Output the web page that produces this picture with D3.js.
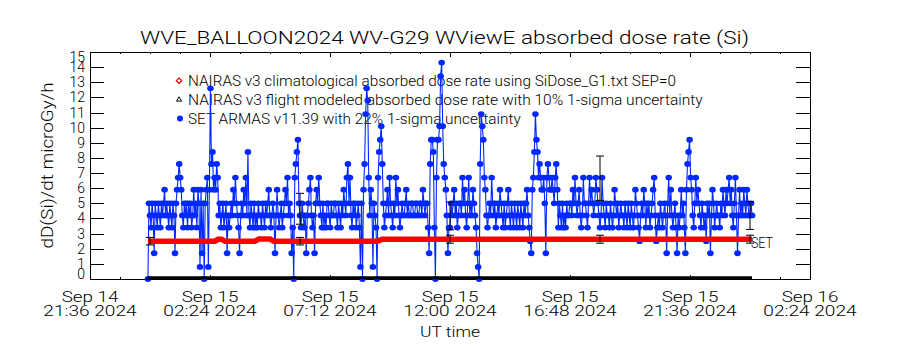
<!DOCTYPE html>
<html>
<head>
<meta charset="utf-8">
<script src="https://cdn.jsdelivr.net/npm/d3@7"></script>
<style>
body { margin: 0; background: #fff; }
text { font-family: Roboto, "Liberation Sans", Arial, sans-serif; font-weight: 300; fill: #000; }
</style>
</head>
<body>
<div id="chart"></div>
<script>
// SET ARMAS dose rate, one reading every 2.5 minutes from 23:55 UT Sep 14
var setStart = "2024-09-14T23:55:00Z";
var setStepMinutes = 2.5;
var setDose = [
    0, 5.0, 4.2, 3.4, 5.0, 4.2, 1.7, 5.0, 4.2, 3.4, 5.0, 4.2, 3.4, 5.0, 4.2, 5.0, 5.9, 4.2, 5.0, 4.2,
    3.4, 5.0, 4.2, 3.4, 5.0, 4.2, 1.7, 5.0, 5.9, 6.7, 7.6, 6.7, 5.9, 4.2, 3.4, 5.0, 4.2, 5.0, 3.4, 5.0,
    4.2, 5.0, 3.4, 4.2, 5.9, 4.2, 5.0, 3.4, 5.9, 5.0, 0.8, 5.9, 1.7, 5.0, 0, 5.0, 5.9, 6.7, 0.8, 5.9,
    12.6, 7.6, 8.4, 5.9, 6.7, 5.9, 7.6, 6.7, 4.2, 5.0, 3.4, 4.2, 5.0, 3.4, 4.2, 5.0, 1.7, 4.2, 3.4, 4.2,
    5.0, 4.2, 5.9, 5.0, 6.7, 5.0, 4.2, 3.4, 1.7, 4.2, 5.0, 4.2, 5.9, 5.0, 6.7, 4.2, 8.4, 4.2, 3.4, 5.0,
    4.2, 3.4, 5.0, 3.4, 4.2, 3.4, 5.0, 4.2, 4.2, 3.4, 5.0, 4.2, 3.4, 5.0, 4.2, 5.0, 5.9, 4.2, 3.4, 4.2,
    5.0, 4.2, 1.7, 4.2, 5.9, 4.2, 3.4, 4.2, 5.0, 3.4, 4.2, 5.0, 5.9, 5.0, 6.7, 4.2, 5.0, 4.2, 1.7, 3.4,
    0, 6.7, 7.6, 8.4, 9.2, 5.0, 4.2, 3.4, 5.0, 4.2, 3.4, 4.2, 1.7, 4.2, 5.0, 5.9, 6.7, 4.2, 3.4, 4.2,
    1.7, 5.0, 5.9, 5.0, 6.7, 5.0, 4.2, 3.4, 5.0, 3.4, 4.2, 3.4, 5.0, 5.0, 4.2, 3.4, 5.0, 4.2, 4.2, 5.0,
    5.0, 4.2, 3.4, 5.0, 4.2, 3.4, 5.0, 4.2, 5.9, 5.0, 4.2, 6.7, 7.6, 5.0, 6.7, 4.2, 3.4, 5.0, 4.2, 5.0,
    3.4, 4.2, 5.0, 3.4, 0.8, 5.0, 0, 5.9, 7.6, 10.9, 12.6, 11.8, 6.7, 4.2, 5.9, 5.0, 0.8, 5.0, 4.2, 3.4,
    0, 6.7, 8.4, 9.2, 10.1, 7.6, 5.0, 3.4, 4.2, 5.0,
    5.9, 4.2, 6.7, 5.0, 4.2, 3.4, 5.0, 4.2, 6.7, 5.0, 5.9, 4.2, 3.4, 4.2, 5.0, 4.2, 4.2, 5.0, 5.9, 4.2,
    5.0, 4.2, 4.2, 5.0, 5.0, 4.2, 4.2, 5.0, 5.0, 4.2, 4.2, 5.0, 5.0, 4.2, 5.9, 5.0, 4.2, 5.0, 5.0, 3.4,
    1.7, 7.6, 9.2, 9.2, 8.4, 3.4, 0, 6.7, 9.2, 9.2, 10.1, 13.4, 14.3, 10.1, 7.6, 6.7, 5.9, 4.2, 1.7, 3.4,
    3.4, 5.0, 4.2, 5.0, 5.9, 4.2, 5.0, 3.4, 4.2, 5.0, 5.0, 4.2, 6.7, 5.0, 5.9, 4.2, 3.4, 5.0, 6.7, 4.2,
    5.0, 4.2, 5.9, 5.0, 4.2, 3.4, 1.7, 0.8, 0, 7.6, 10.9, 10.1, 9.2, 6.7, 5.9, 4.2, 3.4, 4.2, 5.0, 4.2,
    6.7, 5.0, 4.2, 5.0, 3.4, 4.2, 5.0, 4.2, 5.9, 5.0, 4.2, 3.4, 5.0, 3.4, 4.2, 5.0, 5.9, 4.2,
    3.4, 5.0, 4.2, 3.4, 5.0, 4.2, 3.4, 5.0, 4.2, 3.4, 5.0, 4.2, 3.4, 5.0, 4.2, 5.0, 5.9, 4.2, 3.4, 2.5,
    1.7, 5.9, 6.7, 8.4, 10.9, 9.2, 8.4, 6.7, 7.6, 6.7, 5.9, 5.9, 6.7, 5.0, 1.7, 6.7, 7.6, 6.7, 5.9, 5.9,
    6.7, 5.9, 5.0, 6.7, 7.6, 5.9, 3.4, 5.0, 4.2, 3.4, 5.0, 3.4, 4.2, 3.4, 5.0, 4.2, 4.2, 5.0, 5.0, 4.2,
    5.9, 5.0, 6.7, 5.0, 4.2, 5.0, 5.9, 4.2, 3.4, 4.2, 6.7, 5.0, 5.0, 4.2, 3.4, 5.0, 6.7, 5.0, 5.9, 5.0,
    4.2, 5.0, 6.7, 5.9, 5.0, 4.2, 3.4, 4.2, 6.7, 5.0, 4.2, 3.4, 5.0, 4.2, 4.2, 3.4, 5.0, 4.2, 3.4, 4.2,
    5.9, 5.0, 4.2, 5.0, 3.4, 4.2, 5.0, 4.2, 4.2, 3.4, 5.0, 4.2, 3.4, 5.0,
    4.2, 3.4, 5.0, 4.2, 3.4, 4.2, 5.9, 5.0, 4.2, 3.4, 2.5, 4.2, 5.0, 4.2, 5.9, 5.0, 3.4, 5.0, 4.2, 5.0,
    3.4, 4.2, 5.0, 5.9, 6.7, 4.2, 2.5, 3.4, 4.2, 3.4, 5.0, 4.2, 3.4, 4.2, 5.0, 4.2, 1.7, 5.0, 6.7, 4.2,
    5.9, 4.2, 3.4, 4.2, 5.0, 3.4, 1.7, 4.2, 3.4, 4.2, 5.9, 4.2, 5.0, 3.4, 1.7, 5.9, 7.6, 8.4, 9.2, 6.7,
    5.9, 4.2, 3.4, 5.0, 6.7, 5.0, 5.9, 5.0, 4.2, 3.4, 5.0, 4.2, 3.4, 4.2, 2.5, 5.0, 4.2, 5.0, 1.7, 4.2,
    5.9, 5.0, 3.4, 4.2, 5.0, 4.2, 4.2, 3.4, 5.0, 4.2, 5.9, 5.0, 4.2, 5.9, 5.0, 5.9, 6.7, 5.0, 5.9, 4.2,
    3.4, 5.0, 6.7, 4.2, 1.7, 4.2, 5.9, 4.2, 5.0, 4.2, 5.9, 5.0, 4.2, 5.9, 5.0, 4.2, 4.2, 5.0, 4.2
];

// NAIRAS climatological rate, hours after 00:00 UT Sep 15
var nairasHours = [-0.08, 2.6, 2.72, 2.86, 3.0, 4.2, 4.36, 4.8, 4.95, 9.1, 9.28, 12, 18, 24.08];
var nairasClim = [2.5, 2.5, 2.62, 2.62, 2.5, 2.5, 2.65, 2.65, 2.5, 2.5, 2.62, 2.63, 2.63, 2.63];

// NAIRAS flight modeled rate
var flightHours = [-0.08, 24.08];
var flightDose = [0.08, 0.08];

// error bars every 6 hours
var errHours = [0, 6, 12, 18, 24];
var setErrDose = [0, 4.64, 4.17, 6.66, 4.2];
var nairasErrDose = [2.5, 2.5, 2.63, 2.63, 2.63];
var setSigma = 0.22, nairasSigma = 0.10;

var yTicks = [0, 1, 2, 3, 4, 5, 6, 7, 8, 9, 10, 11, 12, 13, 14, 15];
var xTicks = ["2024-09-14T21:36:00Z", "2024-09-15T02:24:00Z", "2024-09-15T07:12:00Z",
    "2024-09-15T12:00:00Z", "2024-09-15T16:48:00Z", "2024-09-15T21:36:00Z", "2024-09-16T02:24:00Z"];

var legendLabels = [
    "NAIRAS v3 climatological absorbed dose rate using SiDose_G1.txt SEP=0",
    "NAIRAS v3 flight modeled absorbed dose rate with 10% 1-sigma uncertainty",
    "SET ARMAS v11.39 with 22% 1-sigma uncertainty"
];

var margin = { top: 52, right: 90, bottom: 71, left: 90 },
    width = 900 - margin.left - margin.right,
    height = 350 - margin.top - margin.bottom;

var svgRoot = d3.select("#chart")
    .append("svg")
    .attr("width", 900)
    .attr("height", 350)
    .style("background", "#fff");

var svg = svgRoot.append("g")
    .attr("transform", "translate(" + margin.left + "," + margin.top + ")");

var t0 = new Date("2024-09-15T00:00:00Z").getTime();
function hoursToDate(h) { return new Date(t0 + h * 3600000); }

var xDates = xTicks.map(function (d) { return new Date(d); });
var x = d3.scaleUtc()
    .domain([xDates[0], xDates[xDates.length - 1]])
    .range([0, width]);

var y = d3.scaleLinear()
    .domain([0, 15])
    .range([height, 0]);

// minor ticks every 72 minutes
var minorTicks = d3.range(xDates[0].getTime(), xDates[6].getTime() + 1, 72 * 60000)
    .map(function (ms) { return new Date(ms); });

function noDomain(g) { g.select(".domain").remove(); g.selectAll("text").remove(); }

svg.append("g").attr("transform", "translate(0," + height + ")")
    .call(d3.axisBottom(x).tickValues(minorTicks).tickSize(-2.3)).call(noDomain);
svg.append("g").attr("transform", "translate(0," + height + ")")
    .call(d3.axisBottom(x).tickValues(xDates).tickSize(-4.5)).call(noDomain);
svg.append("g")
    .call(d3.axisTop(x).tickValues(minorTicks).tickSize(-2.3)).call(noDomain);
svg.append("g")
    .call(d3.axisTop(x).tickValues(xDates).tickSize(-4.5)).call(noDomain);
svg.append("g")
    .call(d3.axisLeft(y).tickValues(yTicks).tickSize(-14.4)).call(noDomain);
svg.append("g").attr("transform", "translate(" + width + ",0)")
    .call(d3.axisRight(y).tickValues(yTicks).tickSize(-14.4)).call(noDomain);
svg.selectAll(".tick line").attr("stroke", "#000").attr("shape-rendering", "crispEdges");

svg.append("rect")
    .attr("x", 0).attr("y", 0)
    .attr("width", width).attr("height", height)
    .attr("fill", "none")
    .attr("stroke", "#000")
    .attr("stroke-width", 1)
    .attr("shape-rendering", "crispEdges");

// y tick labels, end ones kept inside the axis
svg.selectAll(".ylab")
    .data(yTicks)
    .enter().append("text")
    .attr("class", "ylab")
    .attr("x", -5)
    .attr("y", function (d) { return Math.min(Math.max(y(d), 4.7), height - 4.7) + 5; })
    .attr("text-anchor", "end")
    .style("font-size", "14px")
    .text(function (d) { return d; });

// x tick labels, two lines
var fmtDay = d3.utcFormat("%b %d"), fmtTime = d3.utcFormat("%H:%M %Y");
xDates.forEach(function (d) {
    svg.append("text")
        .attr("x", x(d) - 28.3).attr("y", height + 23)
        .attr("textLength", 56.7).attr("lengthAdjust", "spacingAndGlyphs")
        .style("font-size", "14.5px")
        .text(fmtDay(d));
    svg.append("text")
        .attr("x", x(d) - 46.7).attr("y", height + 36.7)
        .attr("textLength", 93.3).attr("lengthAdjust", "spacingAndGlyphs")
        .style("font-size", "14.5px")
        .text(fmtTime(d));
});

svg.append("text")
    .attr("x", width / 2 - 30).attr("y", height + 58.3)
    .attr("textLength", 60).attr("lengthAdjust", "spacingAndGlyphs")
    .style("font-size", "15px")
    .text("UT time");

svgRoot.append("text")
    .attr("x", 140).attr("y", 43.5)
    .attr("textLength", 609).attr("lengthAdjust", "spacingAndGlyphs")
    .style("font-size", "18.5px")
    .text("WVE_BALLOON2024 WV-G29 WViewE absorbed dose rate (Si)");

svgRoot.append("text")
    .attr("transform", "translate(53.3," + (margin.top + height / 2) + ") rotate(-90)")
    .attr("x", -83).attr("y", 0)
    .attr("textLength", 166).attr("lengthAdjust", "spacingAndGlyphs")
    .style("font-size", "17px")
    .text("dD(Si)/dt microGy/h");

// legend
var legendWidths = [488, 514.7, 332.7];
legendLabels.forEach(function (lab, i) {
    svg.append("text")
        .attr("x", 98).attr("y", 33.5 + i * 19)
        .attr("textLength", legendWidths[i]).attr("lengthAdjust", "spacingAndGlyphs")
        .style("font-size", "14px")
        .text(lab);
});
svg.append("path")
    .attr("d", d3.symbol().type(d3.symbolDiamond2).size(18)())
    .attr("transform", "translate(89,28.7)")
    .attr("fill", "none").attr("stroke", "#e00000").attr("stroke-width", 1.2);
svg.append("path")
    .attr("d", d3.symbol().type(d3.symbolTriangle2).size(18)())
    .attr("transform", "translate(89,47.7)")
    .attr("fill", "none").attr("stroke", "#000").attr("stroke-width", 1);
svg.append("circle")
    .attr("cx", 90).attr("cy", 66.5).attr("r", 3)
    .attr("fill", "#0028ff");

// SET ARMAS series
var startMs = new Date(setStart).getTime();
var setData = setDose.map(function (v, i) {
    return { date: new Date(startMs + i * setStepMinutes * 60000), value: v };
});

var line = d3.line()
    .x(function (d) { return x(d.date); })
    .y(function (d) { return y(d.value); });

svg.append("path")
    .datum(setData)
    .attr("fill", "none")
    .attr("stroke", "#0028ff")
    .attr("stroke-width", 1.1)
    .attr("d", line);

svg.selectAll(".setpt")
    .data(setData)
    .enter().append("ellipse")
    .attr("class", "setpt")
    .attr("cx", function (d) { return x(d.date); })
    .attr("cy", function (d) { return y(d.value); })
    .attr("rx", 3.3)
    .attr("ry", 2.9)
    .attr("fill", "#0028ff");

// NAIRAS climatological
var climData = nairasHours.map(function (h, i) { return { date: hoursToDate(h), value: nairasClim[i] }; });
svg.append("path")
    .datum(climData)
    .attr("fill", "none")
    .attr("stroke", "#ff0000")
    .attr("stroke-width", 5.5)
    .attr("d", line);

// NAIRAS flight modeled
var flightData = flightHours.map(function (h, i) { return { date: hoursToDate(h), value: flightDose[i] }; });
svg.append("path")
    .datum(flightData)
    .attr("fill", "none")
    .attr("stroke", "#000")
    .attr("stroke-width", 3)
    .attr("d", line);

// error bars
function errorBars(centers, sigma) {
    errHours.forEach(function (h, i) {
        var cx = x(hoursToDate(h)),
            lo = y(centers[i] * (1 - sigma)),
            hi = y(centers[i] * (1 + sigma));
        var p = d3.path();
        p.moveTo(cx, lo); p.lineTo(cx, hi);
        p.moveTo(cx - 4, lo); p.lineTo(cx + 4, lo);
        p.moveTo(cx - 4, hi); p.lineTo(cx + 4, hi);
        svg.append("path").attr("d", p.toString())
            .attr("fill", "none").attr("stroke", "#000").attr("stroke-width", 1);
    });
}
errorBars(setErrDose, setSigma);
errorBars(nairasErrDose, nairasSigma);

svg.append("text")
    .attr("x", x(hoursToDate(24)) + 1).attr("y", y(2.63) + 9)
    .attr("textLength", 22).attr("lengthAdjust", "spacingAndGlyphs")
    .style("font-size", "14px")
    .text("SET");
</script>
</body>
</html>
